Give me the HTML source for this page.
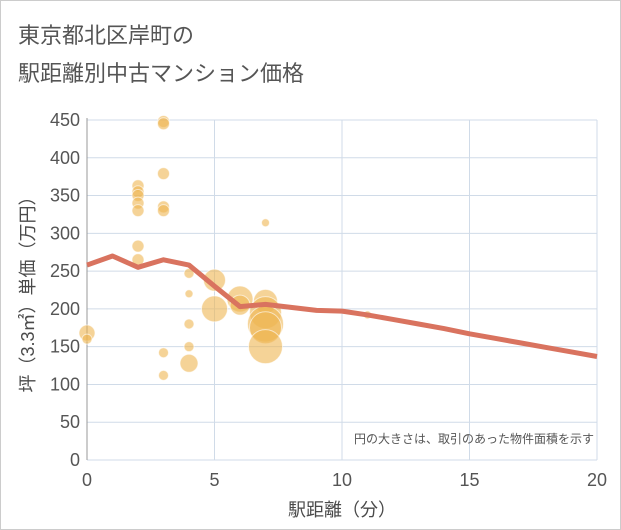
<!DOCTYPE html>
<html><head><meta charset="utf-8"><style>
body{margin:0;background:#fff;font-family:"Liberation Sans","Noto Sans CJK JP",sans-serif;}
#wrap{position:relative;width:619px;height:528px;border:1px solid #ccc;background:#fff;}
.t{position:absolute;color:#555;font-size:22px;left:17px;}
</style></head><body>
<div id="wrap">
<div class="t" style="top:17px">東京都北区岸町の</div>
<div class="t" style="top:55px">駅距離別中古マンション価格</div>
<svg id="svg" width="621" height="530" style="position:absolute;left:-1px;top:-1px"></svg>
</div>
<script>
const xTicks=[0,5,10,15,20];
const yTicks=[0,50,100,150,200,250,300,350,400,450];
const bubbleX=[0,0,2,2,2,2,2,2,2,3,3,3,3,3,3,3,4,4,4,4,4,5,5,6,6,7,7,7,7,7,7,11];
const bubbleY=[168,160,363,355,350,340,330,283,265,448,445,379,335,330,142,112,247,220,180,150,128,238,200,213,205,210,195,180,175,150,314,192];
const bubbleR=[8,5,6,6,6,6,6,6,6,6,6,6,6,6,5,5,5,4,5,5,9,11,13,13,10,12,16,18,16,17,4,4];
const lineX=[0,1,2,3,4,5,6,7,8,9,10,11,12,13,14,15,16,17,18,19,20];
const lineY=[258,270,255,265,258,230,203,206,202,198,197,192,186,180,174,167,161,155,149,143,137];
const NS="http://www.w3.org/2000/svg",svg=document.getElementById('svg');
const X=v=>87+v*25.5, Y=v=>460-v*0.7556;
function mk(t,a){const e=document.createElementNS(NS,t);for(const k in a)e.setAttribute(k,a[k]);svg.appendChild(e);return e;}
yTicks.forEach(v=>{const l=mk('line',{x1:87,x2:597,y1:Y(v),y2:Y(v),stroke:'#d0dbe8','stroke-width':1});


const t=mk('text',{x:80,y:Y(v)+6,'text-anchor':'end','font-size':18,fill:'#555'});t.textContent=v;

});
xTicks.forEach(v=>{const l=mk('line',{x1:X(v),x2:X(v),y1:120,y2:460,stroke:'#d0dbe8','stroke-width':1});


const t=mk('text',{x:X(v),y:486,'text-anchor':'middle','font-size':18,fill:'#555'});t.textContent=v;

});
const ax=mk('line',{x1:87,x2:87,y1:118,y2:460,stroke:'#999','stroke-width':1});


bubbleX.forEach((x,i)=>{const c=mk('circle',{cx:X(x),cy:Y(bubbleY[i]),r:bubbleR[i],fill:'rgba(238,182,82,0.6)',stroke:'rgba(255,255,255,0.6)','stroke-width':1});

});
const p=mk('polyline',{points:lineX.map((x,i)=>X(x)+','+Y(lineY[i])).join(' '),fill:'none',stroke:'#d9735f','stroke-width':5,'stroke-linejoin':'round'});


const n=mk('text',{x:594,y:443,'text-anchor':'end','font-size':12,fill:'#555'});n.textContent='円の大きさは、取引のあった物件面積を示す';


const xt=mk('text',{x:342,y:516,'text-anchor':'middle','font-size':18,fill:'#4a4a4a'});xt.textContent='駅距離（分）';


const yt=mk('text',{x:0,y:0,'text-anchor':'middle','font-size':18,fill:'#4a4a4a',transform:'translate(34,290) rotate(-90)'});yt.textContent='坪（3.3㎡）単価（万円）';


</script></body></html>
